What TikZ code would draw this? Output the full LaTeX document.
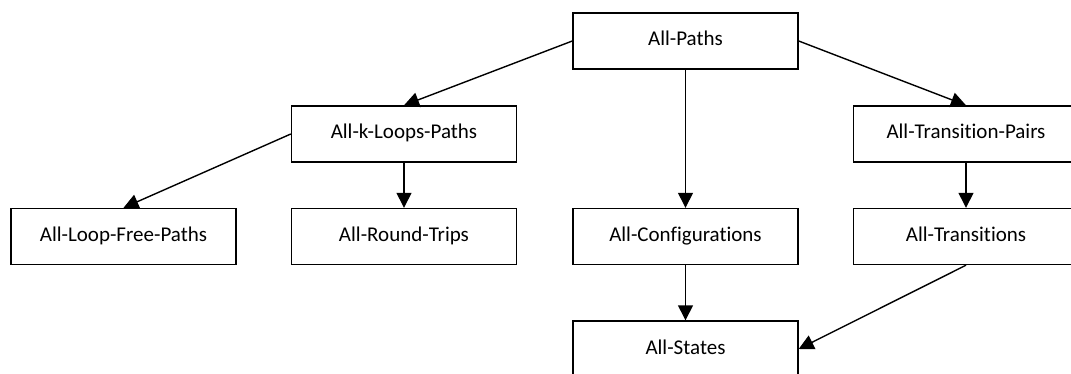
\documentclass[tikz,border=0pt]{standalone}
\usepackage{fontspec}
\setmainfont[Ligatures={NoCommon}]{Carlito}
\usetikzlibrary{arrows.meta}
\begin{document}
\begin{tikzpicture}[x=1pt,y=-1pt,
  box/.style={draw, line width=1.4pt, minimum width=225pt, minimum height=56pt,
    inner sep=0pt, text height=14pt, text depth=4pt,
    font=\fontsize{21}{25}\selectfont},
  link/.style={line width=1.4pt, -{Triangle[length=15pt,width=15pt]}}]
\useasboundingbox (0,0) rectangle (1071,374);
% first row
\node[box] (paths)   at (685.5,41)  {All-Paths};
% second row
\node[box] (kloops)  at (404,134)   {All-k-Loops-Paths};
\node[box] (tpairs)  at (966,134)   {All-Transition-Pairs};
% third row
\node[box] (loopfree) at (123.5,236.5) {All-Loop-Free-Paths};
\node[box] (round)    at (404,236.5)   {All-Round-Trips};
\node[box] (config)   at (685.5,236.5) {All-Configurations};
\node[box] (trans)    at (966,236.5)   {All-Transitions};
% last row
\node[box] (states)   at (685.5,349)   {All-States};
% subsumption links
\draw[link] (paths.west)  -- (kloops.north);
\draw[link] (paths.south) -- (config.north);
\draw[link] (paths.east)  -- (tpairs.north);
\draw[link] (kloops.west) -- (loopfree.north);
\draw[link] (kloops.south) -- (round.north);
\draw[link] (tpairs.south) -- (trans.north);
\draw[link] (config.south) -- (states.north);
\draw[link] (trans.south) -- (states.east);
\end{tikzpicture}
\end{document}
